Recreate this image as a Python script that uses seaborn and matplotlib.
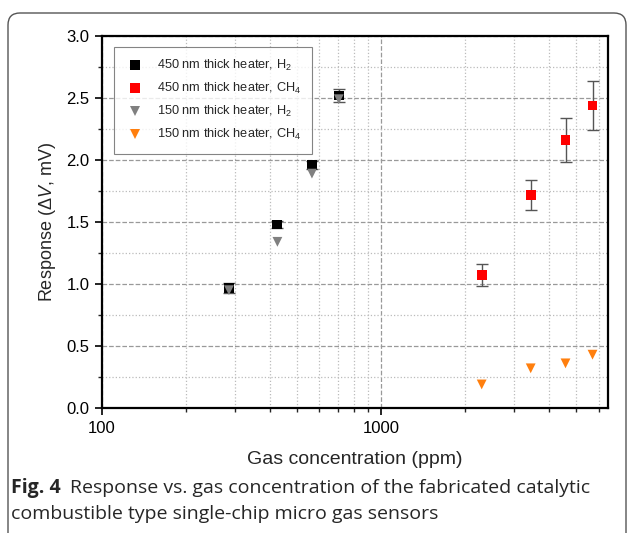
import matplotlib
matplotlib.use("Agg")
import matplotlib.pyplot as plt
from matplotlib.patches import FancyBboxPatch
from matplotlib.ticker import LogLocator, NullFormatter, FixedLocator, MultipleLocator
import pandas as pd
import seaborn as sns

# data
h2_conc = [285, 425, 565, 705]
h2_450 = [0.97, 1.48, 1.96, 2.52]
h2_450_err = [0.04, 0.03, 0.03, 0.05]
h2_150 = [0.95, 1.34, 1.89, 2.49]

ch4_conc = [2290, 3430, 4570, 5710]
ch4_450 = [1.07, 1.72, 2.16, 2.44]
ch4_450_err = [0.09, 0.12, 0.18, 0.20]
ch4_150 = [0.19, 0.32, 0.36, 0.43]

labels = ["450 nm thick heater, H$_2$", "450 nm thick heater, CH$_4$",
          "150 nm thick heater, H$_2$", "150 nm thick heater, CH$_4$"]
colors = ["#000000", "#ff0000", "#808080", "#ff7f0e"]
markers = ["s", "s", "v", "v"]

df = pd.concat([
    pd.DataFrame({"conc": h2_conc, "resp": h2_450, "series": labels[0]}),
    pd.DataFrame({"conc": ch4_conc, "resp": ch4_450, "series": labels[1]}),
    pd.DataFrame({"conc": h2_conc, "resp": h2_150, "series": labels[2]}),
    pd.DataFrame({"conc": ch4_conc, "resp": ch4_150, "series": labels[3]}),
], ignore_index=True)

sns.set_style("ticks")
plt.rcParams["font.family"] = ["Liberation Sans", "DejaVu Sans"]
plt.rcParams["mathtext.fontset"] = "custom"
plt.rcParams["mathtext.rm"] = "Liberation Sans"
plt.rcParams["mathtext.it"] = "Liberation Sans:italic"

fig = plt.figure(figsize=(6.29, 5.33), dpi=100)
ax = fig.add_axes([0.162, 0.2345, 0.805, 0.698])

# error bars first so the markers sit on top
ax.errorbar(h2_conc, h2_450, yerr=h2_450_err, fmt="none", ecolor="#555555",
            elinewidth=1, capsize=4, capthick=1, zorder=2)
ax.errorbar(ch4_conc, ch4_450, yerr=ch4_450_err, fmt="none", ecolor="#555555",
            elinewidth=1, capsize=4, capthick=1, zorder=2)

sns.scatterplot(data=df, x="conc", y="resp", hue="series", style="series",
                hue_order=labels, style_order=labels,
                palette=dict(zip(labels, colors)),
                markers=dict(zip(labels, markers)),
                s=50, linewidth=0, ax=ax, zorder=3)

ax.set_xscale("log")
ax.set_xlim(100, 6500)
ax.set_ylim(0, 3.0)
ax.xaxis.set_major_locator(FixedLocator([100, 1000]))
ax.set_xticklabels(["100", "1000"])
ax.xaxis.set_minor_locator(LogLocator(base=10, subs=range(2, 10)))
ax.xaxis.set_minor_formatter(NullFormatter())
ax.yaxis.set_major_locator(MultipleLocator(0.5))
ax.yaxis.set_minor_locator(MultipleLocator(0.25))
ax.set_yticklabels([f"{v:.1f}" for v in ax.get_yticks()])

ax.grid(which="major", linestyle="--", color="#999999", linewidth=0.9)
ax.grid(which="minor", linestyle=":", color="#bbbbbb", linewidth=0.9)
ax.set_axisbelow(True)

for sp in ax.spines.values():
    sp.set_linewidth(1.6)
    sp.set_color("black")
ax.tick_params(which="major", direction="out", length=5, width=1.2,
               labelsize=12, colors="black", pad=4)
ax.tick_params(which="minor", direction="out", length=3, width=1.0)

ax.set_xlabel("Gas concentration (ppm)", fontsize=14, labelpad=11)
ax.set_ylabel(r"Response ($\mathit{\Delta V}$, mV)", fontsize=13, labelpad=6)

leg = ax.legend(loc="upper left", bbox_to_anchor=(0.012, 0.988), fontsize=9.2,
                frameon=True, fancybox=False, edgecolor="#666666",
                borderpad=0.9, labelspacing=0.62, handletextpad=0.9,
                handlelength=1.5, markerscale=1.0)
leg.get_frame().set_linewidth(0.8)

# caption
cap1 = fig.text(0.017, 0.085, "Fig. 4", fontsize=14, fontweight="bold",
                family="Open Sans", va="center")
ax.annotate("Response vs. gas concentration of the fabricated catalytic",
            xy=(1, 0.5), xycoords=cap1, xytext=(7, 0), textcoords="offset points",
            fontsize=14, family="Open Sans", va="center",
            annotation_clip=False)
fig.text(0.017, 0.035, "combustible type single-chip micro gas sensors",
         fontsize=14, family="Open Sans", va="center")

# rounded frame around the figure panel
frame = FancyBboxPatch((0.08, -0.5), 6.18, 5.7, boxstyle="round,pad=0,rounding_size=0.12",
                       transform=fig.dpi_scale_trans, facecolor="none",
                       edgecolor="#555555", linewidth=1.0, clip_on=False)
fig.patches.append(frame)

fig.savefig("out.png", dpi=100)
